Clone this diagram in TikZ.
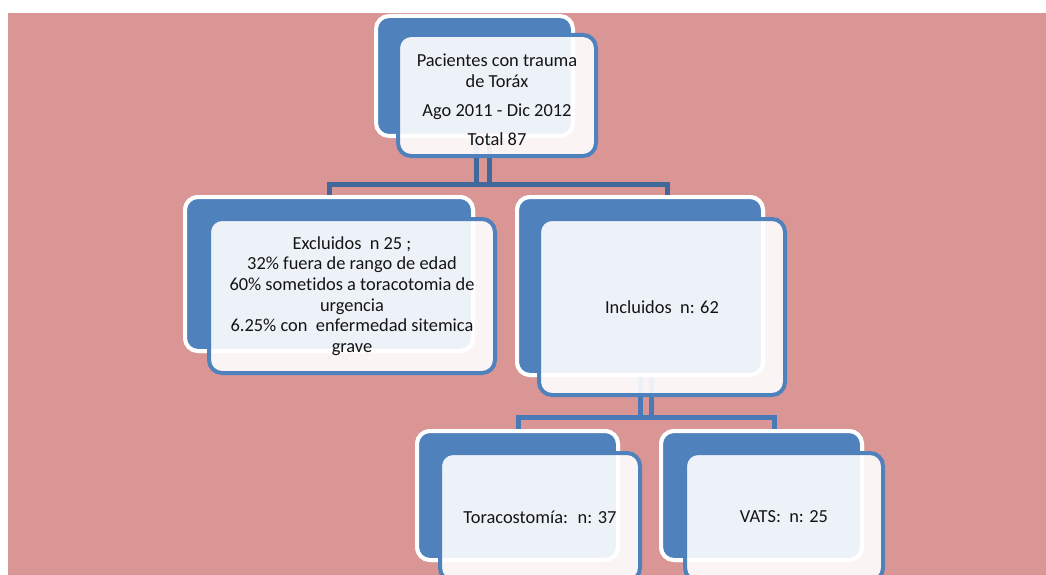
\documentclass[tikz,border=0pt]{standalone}
\usepackage{fontspec}
\setmainfont{Carlito}[Ligatures=NoCommon]
\definecolor{bgpink}{HTML}{D99694}
\definecolor{accblue}{HTML}{4F81BD}
\definecolor{connA}{HTML}{41679B}
\definecolor{connB}{HTML}{4A7AB6}
\definecolor{txt}{HTML}{141414}
\tikzset{
  backbox/.style={draw=white, fill=accblue, line width=4pt, rounded corners=13pt, inner sep=0pt, outer sep=0pt},
  frontbox/.style={draw=accblue, fill=white, fill opacity=0.9, text opacity=1, line width=4pt, rounded corners=13pt, inner sep=0pt, outer sep=0pt, align=center, text=txt, font=\fontsize{18.4}{20.7}\selectfont},
  linkA/.style={draw=connA, line width=5pt},
  linkB/.style={draw=connB, line width=5pt}
}
\begin{document}
\begin{tikzpicture}[x=1pt,y=-1pt]
\clip (0,0) rectangle (1046,575);
\fill[white] (0,0) rectangle (1046,575);
\fill[bgpink] (8,13) rectangle (1046,575);
% connector coordinates
\coordinate (c1) at (476,184);
\coordinate (c2) at (489.5,184);
\coordinate (cl) at (329,184);
\coordinate (cr) at (667.5,184);
\coordinate (d1) at (640.5,417);
\coordinate (d2) at (651.5,417);
\coordinate (dl) at (518,417);
\coordinate (dr) at (774,417);
% back boxes
\node[backbox, minimum width=197pt, minimum height=120pt] (topB) at (474.5,76) {};
\node[backbox, minimum width=288pt, minimum height=154pt] (exB) at (329,274) {};
\node[backbox, minimum width=246pt, minimum height=178pt] (inB) at (640,286) {};
\node[backbox, minimum width=201pt, minimum height=129pt] (toB) at (517.5,495.5) {};
\node[backbox, minimum width=201pt, minimum height=129pt] (vaB) at (761.5,495.5) {};
% connectors
\draw[linkA] (topB.south -| c1) -- (c1);
\draw[linkA] (topB.south -| c2) -- (c2);
\draw[linkA] (cl |- exB.north) -- (cl) -- (cr) -- (cr |- inB.north);
\draw[linkB] (inB.south -| d1) -- (d1);
\draw[linkB] (inB.south -| d2) -- (d2);
\draw[linkB] (dl |- toB.north) -- (dl) -- (dr) -- (dr |- vaB.north);
% redraw back boxes over connector ends
\node[backbox, minimum width=288pt, minimum height=154pt] at (329,274) {};
\node[backbox, minimum width=246pt, minimum height=178pt] at (640,286) {};
\node[backbox, minimum width=201pt, minimum height=129pt] at (517.5,495.5) {};
\node[backbox, minimum width=201pt, minimum height=129pt] at (761.5,495.5) {};
% front boxes
\node[frontbox, minimum width=198pt, minimum height=121pt] (topF) at (497,95.5) {\rule{0pt}{21pt}Pacientes con trauma\\de Toráx\\[9pt]Ago 2011 - Dic 2012\\[8pt]Total 87};
\node[frontbox, minimum width=286pt, minimum height=154pt] (exF) at (352,296) {Excluidos~ n 25 ;\\32\% fuera de rango de edad\\60\% sometidos a toracotomia de\\urgencia\\6.25\% con~ enfermedad sitemica\\grave};
\node[frontbox, minimum width=246pt, minimum height=176pt] (inF) at (662,307) {Incluidos~ n: 62};
\node[frontbox, minimum width=200pt, minimum height=128pt] (toF) at (540,517) {Toracostomía:~ n: 37};
\node[frontbox, minimum width=198pt, minimum height=128pt] (vaF) at (784,517) {VATS:~ n: 25};
\end{tikzpicture}
\end{document}
